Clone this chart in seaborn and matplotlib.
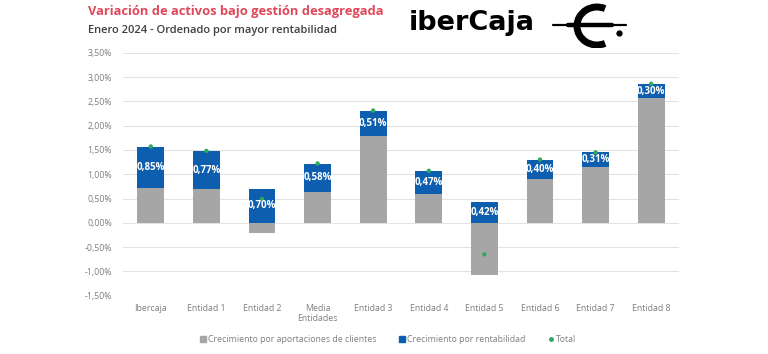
import matplotlib
matplotlib.use("Agg")
import matplotlib.pyplot as plt
import matplotlib.ticker as ticker
from matplotlib.patches import Arc
from matplotlib.lines import Line2D
import seaborn as sns
import pandas as pd
import numpy as np

# ------------------------------------------------------------------
# Data (% of assets)
# ------------------------------------------------------------------
entidades = ["Ibercaja", "Entidad 1", "Entidad 2", "Media\nEntidades", "Entidad 3",
             "Entidad 4", "Entidad 5", "Entidad 6", "Entidad 7", "Entidad 8"]
aportaciones = [0.71, 0.70, -0.21, 0.64, 1.79, 0.60, -1.07, 0.90, 1.14, 2.56]
rentabilidad = [0.85, 0.77, 0.70, 0.58, 0.51, 0.47, 0.42, 0.40, 0.31, 0.30]
total = [1.57, 1.48, 0.49, 1.22, 2.31, 1.07, -0.65, 1.30, 1.45, 2.86]

df = pd.DataFrame({"entidad": entidades, "aport": aportaciones,
                   "rent": rentabilidad, "total": total})
# Excel-style stacking: blue sits on the positive part of the grey bar
df["base"] = df["aport"].clip(lower=0)
df["top"] = df["base"] + df["rent"]

GREY = "#A6A6A6"
BLUE = "#0D5EAF"
GREEN = "#2DAA5C"
TXT = "#7F7F7F"

sns.set_theme(style="white")
plt.rcParams["font.family"] = ["Open Sans", "DejaVu Sans"]

fig = plt.figure(figsize=(7.68, 3.54), dpi=100)
ax = fig.add_axes([123 / 768, 58.3 / 354, 556 / 768, 243 / 354])

sns.barplot(data=df, x="entidad", y="top", color=BLUE, saturation=1,
            width=0.48, linewidth=0, ax=ax, zorder=2)
sns.barplot(data=df, x="entidad", y="aport", color=GREY, saturation=1,
            width=0.48, linewidth=0, ax=ax, zorder=3)
sns.scatterplot(data=df, x="entidad", y="total", color=GREEN, s=10,
                edgecolor="none", ax=ax, zorder=5)

for i, r in df.iterrows():
    ax.text(i, r["base"] + r["rent"] / 2, f"{r['rent']:.2f}%".replace(".", ","),
            ha="center", va="center", color="white", fontsize=7,
            fontweight="bold", zorder=6)

ax.set_ylim(-1.5, 3.5)
ax.set_xlim(-0.5, len(entidades) - 0.5)
ax.set_yticks(np.arange(-1.5, 3.51, 0.5))
ax.yaxis.set_major_formatter(ticker.FuncFormatter(
    lambda y, pos: f"{y:.2f}%".replace(".", ",")))
ax.grid(axis="y", color="#E3E3E3", linewidth=0.8, zorder=0)
ax.set_axisbelow(True)
sns.despine(ax=ax, left=True, bottom=True)
ax.set_xlabel("")
ax.set_ylabel("")
ax.tick_params(axis="both", length=0, labelsize=6.3, colors=TXT, pad=6)
ax.tick_params(axis="y", pad=8)

handles = [
    Line2D([], [], marker="s", linestyle="none", color=GREY, markersize=4),
    Line2D([], [], marker="s", linestyle="none", color=BLUE, markersize=4),
    Line2D([], [], marker="o", linestyle="none", color=GREEN, markersize=2.5),
]
labels = ["Crecimiento por aportaciones de clientes", "Crecimiento por rentabilidad", "Total"]
leg = fig.legend(handles, labels, loc="center", bbox_to_anchor=(388 / 768, 1 - 340 / 354),
                 ncol=3, frameon=False, fontsize=6.3, handletextpad=0.2,
                 columnspacing=2.5, handlelength=0.8)
for t in leg.get_texts():
    t.set_color(TXT)

# Titles
fig.text(88 / 768, 1 - 12 / 354, "Variación de activos bajo gestión desagregada",
         color="#E0475A", fontsize=9.3, fontweight="bold", va="center", ha="left")
fig.text(88 / 768, 1 - 30 / 354, "Enero 2024 - Ordenado por mayor rentabilidad",
         color="#404040", fontsize=8.0, fontweight="semibold", va="center", ha="left")

# Logo
fig.text(409 / 768, 1 - 23 / 354, "iberCaja", color="black", fontsize=19.5,
         fontweight="bold", family=["DejaVu Sans"], va="center", ha="left")
lax = fig.add_axes([548 / 768, 1 - 48 / 354, 84 / 768, 48 / 354])
lax.set_xlim(548, 632)
lax.set_ylim(48, 0)
lax.set_aspect("equal")
lax.axis("off")
lax.add_patch(Arc((597, 26), 40, 38, theta1=65, theta2=295, lw=5, color="black"))
lax.plot([553, 626], [25, 25], color="black", lw=1.6, solid_capstyle="round")
lax.plot([568, 612], [25, 25], color="black", lw=3.2, solid_capstyle="round")
lax.plot([619], [33], marker="o", color="black", markersize=3.5)

fig.savefig("out.png", dpi=100)
